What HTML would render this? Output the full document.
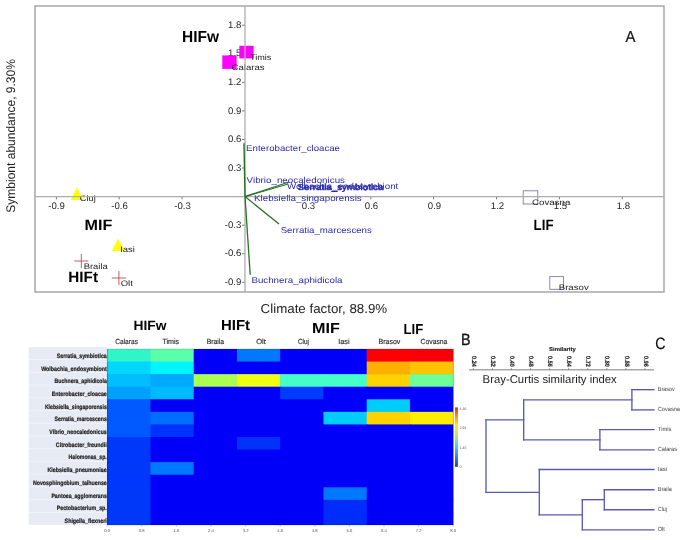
<!DOCTYPE html>
<html><head><meta charset="utf-8"><style>
html,body{margin:0;padding:0;background:#fff;}
svg{display:block;font-family:"Liberation Sans", sans-serif;will-change:transform;text-rendering:geometricPrecision;}
</style></head><body>
<svg width="685" height="540" viewBox="0 0 685 540">
<rect width="685" height="540" fill="#fff"/>
<rect x="35" y="6" width="629" height="286" fill="none" stroke="#9a9a9a" stroke-width="1.3"/>
<line x1="242.0" y1="25.2" x2="245.0" y2="25.2" stroke="#555" stroke-width="0.8"/>
<text x="241.4" y="27.8" font-size="9.6" fill="#262626" text-anchor="end" font-weight="normal">1.8</text>
<line x1="242.0" y1="53.8" x2="245.0" y2="53.8" stroke="#555" stroke-width="0.8"/>
<text x="241.4" y="56.4" font-size="9.6" fill="#262626" text-anchor="end" font-weight="normal">1.5</text>
<line x1="242.0" y1="82.4" x2="245.0" y2="82.4" stroke="#555" stroke-width="0.8"/>
<text x="241.4" y="85.0" font-size="9.6" fill="#262626" text-anchor="end" font-weight="normal">1.2</text>
<line x1="242.0" y1="110.9" x2="245.0" y2="110.9" stroke="#555" stroke-width="0.8"/>
<text x="241.4" y="113.5" font-size="9.6" fill="#262626" text-anchor="end" font-weight="normal">0.9</text>
<line x1="242.0" y1="139.5" x2="245.0" y2="139.5" stroke="#555" stroke-width="0.8"/>
<text x="241.4" y="142.1" font-size="9.6" fill="#262626" text-anchor="end" font-weight="normal">0.6</text>
<line x1="242.0" y1="168.0" x2="245.0" y2="168.0" stroke="#555" stroke-width="0.8"/>
<text x="241.4" y="170.6" font-size="9.6" fill="#262626" text-anchor="end" font-weight="normal">0.3</text>
<line x1="242.0" y1="225.2" x2="245.0" y2="225.2" stroke="#555" stroke-width="0.8"/>
<text x="241.4" y="227.8" font-size="9.6" fill="#262626" text-anchor="end" font-weight="normal">-0.3</text>
<line x1="242.0" y1="253.7" x2="245.0" y2="253.7" stroke="#555" stroke-width="0.8"/>
<text x="241.4" y="256.3" font-size="9.6" fill="#262626" text-anchor="end" font-weight="normal">-0.6</text>
<line x1="242.0" y1="282.3" x2="245.0" y2="282.3" stroke="#555" stroke-width="0.8"/>
<text x="241.4" y="284.9" font-size="9.6" fill="#262626" text-anchor="end" font-weight="normal">-0.9</text>
<line x1="56.4" y1="196.6" x2="56.4" y2="199.29999999999998" stroke="#555" stroke-width="0.8"/>
<text x="56.5" y="209.0" font-size="9.6" fill="#262626" text-anchor="middle" font-weight="normal">-0.9</text>
<line x1="119.2" y1="196.6" x2="119.2" y2="199.29999999999998" stroke="#555" stroke-width="0.8"/>
<text x="119.5" y="209.0" font-size="9.6" fill="#262626" text-anchor="middle" font-weight="normal">-0.6</text>
<line x1="182.1" y1="196.6" x2="182.1" y2="199.29999999999998" stroke="#555" stroke-width="0.8"/>
<text x="182.5" y="209.0" font-size="9.6" fill="#262626" text-anchor="middle" font-weight="normal">-0.3</text>
<line x1="307.9" y1="196.6" x2="307.9" y2="199.29999999999998" stroke="#555" stroke-width="0.8"/>
<text x="308.5" y="209.0" font-size="9.6" fill="#262626" text-anchor="middle" font-weight="normal">0.3</text>
<line x1="370.8" y1="196.6" x2="370.8" y2="199.29999999999998" stroke="#555" stroke-width="0.8"/>
<text x="371.5" y="209.0" font-size="9.6" fill="#262626" text-anchor="middle" font-weight="normal">0.6</text>
<line x1="433.6" y1="196.6" x2="433.6" y2="199.29999999999998" stroke="#555" stroke-width="0.8"/>
<text x="434.5" y="209.0" font-size="9.6" fill="#262626" text-anchor="middle" font-weight="normal">0.9</text>
<line x1="496.5" y1="196.6" x2="496.5" y2="199.29999999999998" stroke="#555" stroke-width="0.8"/>
<text x="497.5" y="209.0" font-size="9.6" fill="#262626" text-anchor="middle" font-weight="normal">1.2</text>
<line x1="559.4" y1="196.6" x2="559.4" y2="199.29999999999998" stroke="#555" stroke-width="0.8"/>
<text x="560.5" y="209.0" font-size="9.6" fill="#262626" text-anchor="middle" font-weight="normal">1.5</text>
<line x1="622.3" y1="196.6" x2="622.3" y2="199.29999999999998" stroke="#555" stroke-width="0.8"/>
<text x="623.5" y="209.0" font-size="9.6" fill="#262626" text-anchor="middle" font-weight="normal">1.8</text>
<rect x="239.3" y="45.8" width="14.3" height="12.6" fill="#ff00ff"/>
<rect x="222.3" y="55.4" width="14.3" height="13.5" fill="#ff00ff"/>
<polygon points="77,187.2 83.3,200 70.7,200" fill="#ffff00"/>
<polygon points="118,238.5 124.2,251 111.8,251" fill="#ffff00"/>
<path d="M74.3,261 H88.3 M81.3,254 V268" stroke="#c04858" stroke-width="0.9" fill="none"/>
<path d="M111.9,278 H125.9 M118.9,271 V285" stroke="#c04858" stroke-width="0.9" fill="none"/>
<rect x="523.2" y="190.8" width="14.6" height="13.2" fill="none" stroke="#7c7cb8" stroke-width="0.9"/>
<rect x="549.8" y="276.6" width="13.6" height="12.7" fill="none" stroke="#7c7cb8" stroke-width="0.9"/>
<text x="250.0" y="59.7" font-size="8" fill="#1a1a1a" text-anchor="start" font-weight="normal" textLength="21.4" lengthAdjust="spacingAndGlyphs">Timis</text>
<text x="231.5" y="69.9" font-size="8" fill="#1a1a1a" text-anchor="start" font-weight="normal" textLength="33.1" lengthAdjust="spacingAndGlyphs">Calaras</text>
<text x="79.8" y="200.9" font-size="8" fill="#1a1a1a" text-anchor="start" font-weight="normal" textLength="16.0" lengthAdjust="spacingAndGlyphs">Cluj</text>
<text x="120.2" y="252.2" font-size="8" fill="#1a1a1a" text-anchor="start" font-weight="normal" textLength="14.8" lengthAdjust="spacingAndGlyphs">Iasi</text>
<text x="83.7" y="269.4" font-size="8" fill="#1a1a1a" text-anchor="start" font-weight="normal" textLength="24.1" lengthAdjust="spacingAndGlyphs">Braila</text>
<text x="120.7" y="286.0" font-size="8" fill="#1a1a1a" text-anchor="start" font-weight="normal" textLength="12.1" lengthAdjust="spacingAndGlyphs">Olt</text>
<text x="532.0" y="204.8" font-size="8" fill="#1a1a1a" text-anchor="start" font-weight="normal" textLength="38.4" lengthAdjust="spacingAndGlyphs">Covasna</text>
<text x="558.7" y="290.2" font-size="8" fill="#1a1a1a" text-anchor="start" font-weight="normal" textLength="30.1" lengthAdjust="spacingAndGlyphs">Brasov</text>
<line x1="245.0" y1="6" x2="245.0" y2="292" stroke="#adadad" stroke-width="1.3"/>
<line x1="35" y1="196.6" x2="664" y2="196.6" stroke="#adadad" stroke-width="1.3"/>
<line x1="245.0" y1="196.6" x2="244.0" y2="143.2" stroke="#267326" stroke-width="1.4"/>
<line x1="245.0" y1="196.6" x2="287.4" y2="184.3" stroke="#267326" stroke-width="1.1"/>
<line x1="245.0" y1="196.6" x2="289.0" y2="182.0" stroke="#267326" stroke-width="1.1"/>
<line x1="245.0" y1="196.6" x2="279.0" y2="224.0" stroke="#267326" stroke-width="1.3"/>
<line x1="245.0" y1="196.6" x2="250.2" y2="274.7" stroke="#267326" stroke-width="1.3"/>
<text x="246.1" y="151.3" font-size="8.5" fill="#2b2bab" text-anchor="start" font-weight="normal" textLength="93.9" lengthAdjust="spacingAndGlyphs">Enterobacter_cloacae</text>
<text x="246.6" y="182.9" font-size="8.5" fill="#2b2bab" text-anchor="start" font-weight="normal" textLength="98.4" lengthAdjust="spacingAndGlyphs">Vibrio_neocaledonicus</text>
<text x="287.0" y="188.9" font-size="8.5" fill="#2b2bab" text-anchor="start" font-weight="normal" textLength="111.3" lengthAdjust="spacingAndGlyphs">Wolbachia_endosymbiont</text>
<text x="297.5" y="189.5" font-size="8.5" fill="#2b2bab" text-anchor="start" font-weight="normal" textLength="85.9" lengthAdjust="spacingAndGlyphs" stroke="#2b2bab" stroke-width="0.5">Serratia_symbiotica</text>
<text x="254.1" y="200.9" font-size="8.5" fill="#2b2bab" text-anchor="start" font-weight="normal" textLength="107.6" lengthAdjust="spacingAndGlyphs">Klebsiella_singaporensis</text>
<text x="280.7" y="232.6" font-size="8.5" fill="#2b2bab" text-anchor="start" font-weight="normal" textLength="91.1" lengthAdjust="spacingAndGlyphs">Serratia_marcescens</text>
<text x="251.4" y="282.9" font-size="8.5" fill="#2b2bab" text-anchor="start" font-weight="normal" textLength="91.1" lengthAdjust="spacingAndGlyphs">Buchnera_aphidicola</text>
<text x="182.0" y="42.1" font-size="16" fill="#000" text-anchor="start" font-weight="bold" textLength="37.0" lengthAdjust="spacingAndGlyphs">HIFw</text>
<text x="84.6" y="229.6" font-size="15" fill="#000" text-anchor="start" font-weight="bold" textLength="27.8" lengthAdjust="spacingAndGlyphs">MIF</text>
<text x="68.3" y="282.4" font-size="15" fill="#000" text-anchor="start" font-weight="bold" textLength="29.7" lengthAdjust="spacingAndGlyphs">HIFt</text>
<text x="533.6" y="230.4" font-size="15" fill="#000" text-anchor="start" font-weight="bold" textLength="19.9" lengthAdjust="spacingAndGlyphs">LIF</text>
<text x="625.6" y="41.7" font-size="16" fill="#111" text-anchor="start" font-weight="normal" textLength="9.9" lengthAdjust="spacingAndGlyphs" stroke="#111" stroke-width="0.2">A</text>
<text transform="translate(14.9,212.7) rotate(-90)" x="0" y="0" font-size="12.5" fill="#222" textLength="153.6" lengthAdjust="spacingAndGlyphs">Symbiont abundance, 9.30%</text>
<text x="260.6" y="313.4" font-size="13" fill="#222" text-anchor="start" font-weight="normal" textLength="126.6" lengthAdjust="spacingAndGlyphs">Climate factor, 88.9%</text>
<rect x="28.7" y="347" width="78.5" height="178.0" fill="#e7ebf4"/>
<line x1="28.7" y1="359.7" x2="107.2" y2="359.7" stroke="#f3f5fa" stroke-width="0.8"/>
<line x1="28.7" y1="372.4" x2="107.2" y2="372.4" stroke="#f3f5fa" stroke-width="0.8"/>
<line x1="28.7" y1="385.1" x2="107.2" y2="385.1" stroke="#f3f5fa" stroke-width="0.8"/>
<line x1="28.7" y1="397.9" x2="107.2" y2="397.9" stroke="#f3f5fa" stroke-width="0.8"/>
<line x1="28.7" y1="410.6" x2="107.2" y2="410.6" stroke="#f3f5fa" stroke-width="0.8"/>
<line x1="28.7" y1="423.3" x2="107.2" y2="423.3" stroke="#f3f5fa" stroke-width="0.8"/>
<line x1="28.7" y1="436.0" x2="107.2" y2="436.0" stroke="#f3f5fa" stroke-width="0.8"/>
<line x1="28.7" y1="448.7" x2="107.2" y2="448.7" stroke="#f3f5fa" stroke-width="0.8"/>
<line x1="28.7" y1="461.4" x2="107.2" y2="461.4" stroke="#f3f5fa" stroke-width="0.8"/>
<line x1="28.7" y1="474.1" x2="107.2" y2="474.1" stroke="#f3f5fa" stroke-width="0.8"/>
<line x1="28.7" y1="486.9" x2="107.2" y2="486.9" stroke="#f3f5fa" stroke-width="0.8"/>
<line x1="28.7" y1="499.6" x2="107.2" y2="499.6" stroke="#f3f5fa" stroke-width="0.8"/>
<line x1="28.7" y1="512.3" x2="107.2" y2="512.3" stroke="#f3f5fa" stroke-width="0.8"/>
<text x="56.7" y="357.8" font-size="6.3" fill="#1a1a1a" text-anchor="start" font-weight="bold" textLength="50.1" lengthAdjust="spacingAndGlyphs" stroke="#1a1a1a" stroke-width="0.2">Serratia_symbiotica</text>
<text x="41.2" y="370.5" font-size="6.3" fill="#1a1a1a" text-anchor="start" font-weight="bold" textLength="65.6" lengthAdjust="spacingAndGlyphs" stroke="#1a1a1a" stroke-width="0.2">Wolbachia_endosymbiont</text>
<text x="54.6" y="383.2" font-size="6.3" fill="#1a1a1a" text-anchor="start" font-weight="bold" textLength="52.2" lengthAdjust="spacingAndGlyphs" stroke="#1a1a1a" stroke-width="0.2">Buchnera_aphidicola</text>
<text x="51.8" y="395.9" font-size="6.3" fill="#1a1a1a" text-anchor="start" font-weight="bold" textLength="55.0" lengthAdjust="spacingAndGlyphs" stroke="#1a1a1a" stroke-width="0.2">Enterobacter_cloacae</text>
<text x="44.9" y="408.6" font-size="6.3" fill="#1a1a1a" text-anchor="start" font-weight="bold" textLength="61.9" lengthAdjust="spacingAndGlyphs" stroke="#1a1a1a" stroke-width="0.2">Klebsiella_singaporensis</text>
<text x="54.6" y="421.3" font-size="6.3" fill="#1a1a1a" text-anchor="start" font-weight="bold" textLength="52.2" lengthAdjust="spacingAndGlyphs" stroke="#1a1a1a" stroke-width="0.2">Serratia_marcescens</text>
<text x="49.3" y="434.0" font-size="6.3" fill="#1a1a1a" text-anchor="start" font-weight="bold" textLength="57.5" lengthAdjust="spacingAndGlyphs" stroke="#1a1a1a" stroke-width="0.2">Vibrio_neocaledonicus</text>
<text x="55.8" y="446.7" font-size="6.3" fill="#1a1a1a" text-anchor="start" font-weight="bold" textLength="51.0" lengthAdjust="spacingAndGlyphs" stroke="#1a1a1a" stroke-width="0.2">Citrobacter_freundii</text>
<text x="68.6" y="459.4" font-size="6.3" fill="#1a1a1a" text-anchor="start" font-weight="bold" textLength="38.2" lengthAdjust="spacingAndGlyphs" stroke="#1a1a1a" stroke-width="0.2">Halomonas_sp.</text>
<text x="47.5" y="472.1" font-size="6.3" fill="#1a1a1a" text-anchor="start" font-weight="bold" textLength="59.3" lengthAdjust="spacingAndGlyphs" stroke="#1a1a1a" stroke-width="0.2">Klebsiella_pneumoniae</text>
<text x="32.9" y="484.8" font-size="6.3" fill="#1a1a1a" text-anchor="start" font-weight="bold" textLength="73.9" lengthAdjust="spacingAndGlyphs" stroke="#1a1a1a" stroke-width="0.2">Novosphingobium_taihuense</text>
<text x="51.4" y="497.5" font-size="6.3" fill="#1a1a1a" text-anchor="start" font-weight="bold" textLength="55.4" lengthAdjust="spacingAndGlyphs" stroke="#1a1a1a" stroke-width="0.2">Pantoea_agglomerans</text>
<text x="56.7" y="510.2" font-size="6.3" fill="#1a1a1a" text-anchor="start" font-weight="bold" textLength="50.1" lengthAdjust="spacingAndGlyphs" stroke="#1a1a1a" stroke-width="0.2">Pectobacterium_sp.</text>
<text x="64.6" y="522.9" font-size="6.3" fill="#1a1a1a" text-anchor="start" font-weight="bold" textLength="42.2" lengthAdjust="spacingAndGlyphs" stroke="#1a1a1a" stroke-width="0.2">Shigella_flexneri</text>
<rect x="107.2" y="349.0" width="346.00" height="176.00" fill="#0000fa"/>
<rect x="107.20" y="349.00" width="43.85" height="13.17" fill="#30f5c8"/>
<rect x="150.45" y="349.00" width="43.85" height="13.17" fill="#5affaa"/>
<rect x="193.70" y="349.00" width="43.85" height="13.17" fill="#0000fa"/>
<rect x="236.95" y="349.00" width="43.85" height="13.17" fill="#0078ff"/>
<rect x="280.20" y="349.00" width="43.85" height="13.17" fill="#0000fa"/>
<rect x="323.45" y="349.00" width="43.85" height="13.17" fill="#0000fa"/>
<rect x="366.70" y="349.00" width="43.85" height="13.17" fill="#ff0000"/>
<rect x="409.95" y="349.00" width="43.25" height="13.17" fill="#f80008"/>
<rect x="107.20" y="361.57" width="43.85" height="13.17" fill="#00d7ff"/>
<rect x="150.45" y="361.57" width="43.85" height="13.17" fill="#00f5ff"/>
<rect x="193.70" y="361.57" width="43.85" height="13.17" fill="#0000fa"/>
<rect x="236.95" y="361.57" width="43.85" height="13.17" fill="#0000fa"/>
<rect x="280.20" y="361.57" width="43.85" height="13.17" fill="#0000fa"/>
<rect x="323.45" y="361.57" width="43.85" height="13.17" fill="#0000fa"/>
<rect x="366.70" y="361.57" width="43.85" height="13.17" fill="#ffaf00"/>
<rect x="409.95" y="361.57" width="43.25" height="13.17" fill="#ffc300"/>
<rect x="107.20" y="374.14" width="43.85" height="13.17" fill="#00beff"/>
<rect x="150.45" y="374.14" width="43.85" height="13.17" fill="#00aaff"/>
<rect x="193.70" y="374.14" width="43.85" height="13.17" fill="#aaff50"/>
<rect x="236.95" y="374.14" width="43.85" height="13.17" fill="#f0ff14"/>
<rect x="280.20" y="374.14" width="43.85" height="13.17" fill="#46ffc8"/>
<rect x="323.45" y="374.14" width="43.85" height="13.17" fill="#46ffc8"/>
<rect x="366.70" y="374.14" width="43.85" height="13.17" fill="#ffd200"/>
<rect x="409.95" y="374.14" width="43.25" height="13.17" fill="#6eff96"/>
<rect x="107.20" y="386.71" width="43.85" height="13.17" fill="#00a0ff"/>
<rect x="150.45" y="386.71" width="43.85" height="13.17" fill="#00b9ff"/>
<rect x="193.70" y="386.71" width="43.85" height="13.17" fill="#0000fa"/>
<rect x="236.95" y="386.71" width="43.85" height="13.17" fill="#0000fa"/>
<rect x="280.20" y="386.71" width="43.85" height="13.17" fill="#003cff"/>
<rect x="323.45" y="386.71" width="43.85" height="13.17" fill="#0000fa"/>
<rect x="366.70" y="386.71" width="43.85" height="13.17" fill="#0000fa"/>
<rect x="409.95" y="386.71" width="43.25" height="13.17" fill="#0000fa"/>
<rect x="107.20" y="399.29" width="43.85" height="13.17" fill="#005aff"/>
<rect x="150.45" y="399.29" width="43.85" height="13.17" fill="#0000fa"/>
<rect x="193.70" y="399.29" width="43.85" height="13.17" fill="#0000fa"/>
<rect x="236.95" y="399.29" width="43.85" height="13.17" fill="#0000fa"/>
<rect x="280.20" y="399.29" width="43.85" height="13.17" fill="#0000fa"/>
<rect x="323.45" y="399.29" width="43.85" height="13.17" fill="#0000fa"/>
<rect x="366.70" y="399.29" width="43.85" height="13.17" fill="#00cdfa"/>
<rect x="409.95" y="399.29" width="43.25" height="13.17" fill="#0000fa"/>
<rect x="107.20" y="411.86" width="43.85" height="13.17" fill="#005aff"/>
<rect x="150.45" y="411.86" width="43.85" height="13.17" fill="#006eff"/>
<rect x="193.70" y="411.86" width="43.85" height="13.17" fill="#0000fa"/>
<rect x="236.95" y="411.86" width="43.85" height="13.17" fill="#0000fa"/>
<rect x="280.20" y="411.86" width="43.85" height="13.17" fill="#0000fa"/>
<rect x="323.45" y="411.86" width="43.85" height="13.17" fill="#00cdfa"/>
<rect x="366.70" y="411.86" width="43.85" height="13.17" fill="#ffd200"/>
<rect x="409.95" y="411.86" width="43.25" height="13.17" fill="#ffee00"/>
<rect x="107.20" y="424.43" width="43.85" height="13.17" fill="#005aff"/>
<rect x="150.45" y="424.43" width="43.85" height="13.17" fill="#0032ff"/>
<rect x="193.70" y="424.43" width="43.85" height="13.17" fill="#0000fa"/>
<rect x="236.95" y="424.43" width="43.85" height="13.17" fill="#0000fa"/>
<rect x="280.20" y="424.43" width="43.85" height="13.17" fill="#0000fa"/>
<rect x="323.45" y="424.43" width="43.85" height="13.17" fill="#0000fa"/>
<rect x="366.70" y="424.43" width="43.85" height="13.17" fill="#0000fa"/>
<rect x="409.95" y="424.43" width="43.25" height="13.17" fill="#0000fa"/>
<rect x="107.20" y="437.00" width="43.85" height="13.17" fill="#0038fa"/>
<rect x="150.45" y="437.00" width="43.85" height="13.17" fill="#0000fa"/>
<rect x="193.70" y="437.00" width="43.85" height="13.17" fill="#0000fa"/>
<rect x="236.95" y="437.00" width="43.85" height="13.17" fill="#0032fa"/>
<rect x="280.20" y="437.00" width="43.85" height="13.17" fill="#0000fa"/>
<rect x="323.45" y="437.00" width="43.85" height="13.17" fill="#0000fa"/>
<rect x="366.70" y="437.00" width="43.85" height="13.17" fill="#0000fa"/>
<rect x="409.95" y="437.00" width="43.25" height="13.17" fill="#0000fa"/>
<rect x="107.20" y="449.57" width="43.85" height="13.17" fill="#0038fa"/>
<rect x="150.45" y="449.57" width="43.85" height="13.17" fill="#0000fa"/>
<rect x="193.70" y="449.57" width="43.85" height="13.17" fill="#0000fa"/>
<rect x="236.95" y="449.57" width="43.85" height="13.17" fill="#0000fa"/>
<rect x="280.20" y="449.57" width="43.85" height="13.17" fill="#0000fa"/>
<rect x="323.45" y="449.57" width="43.85" height="13.17" fill="#0000fa"/>
<rect x="366.70" y="449.57" width="43.85" height="13.17" fill="#0000fa"/>
<rect x="409.95" y="449.57" width="43.25" height="13.17" fill="#0000fa"/>
<rect x="107.20" y="462.14" width="43.85" height="13.17" fill="#0038fa"/>
<rect x="150.45" y="462.14" width="43.85" height="13.17" fill="#0078ff"/>
<rect x="193.70" y="462.14" width="43.85" height="13.17" fill="#0000fa"/>
<rect x="236.95" y="462.14" width="43.85" height="13.17" fill="#0000fa"/>
<rect x="280.20" y="462.14" width="43.85" height="13.17" fill="#0000fa"/>
<rect x="323.45" y="462.14" width="43.85" height="13.17" fill="#0000fa"/>
<rect x="366.70" y="462.14" width="43.85" height="13.17" fill="#0000fa"/>
<rect x="409.95" y="462.14" width="43.25" height="13.17" fill="#0000fa"/>
<rect x="107.20" y="474.71" width="43.85" height="13.17" fill="#0038fa"/>
<rect x="150.45" y="474.71" width="43.85" height="13.17" fill="#0000fa"/>
<rect x="193.70" y="474.71" width="43.85" height="13.17" fill="#0000fa"/>
<rect x="236.95" y="474.71" width="43.85" height="13.17" fill="#0000fa"/>
<rect x="280.20" y="474.71" width="43.85" height="13.17" fill="#0000fa"/>
<rect x="323.45" y="474.71" width="43.85" height="13.17" fill="#0000fa"/>
<rect x="366.70" y="474.71" width="43.85" height="13.17" fill="#0000fa"/>
<rect x="409.95" y="474.71" width="43.25" height="13.17" fill="#0000fa"/>
<rect x="107.20" y="487.29" width="43.85" height="13.17" fill="#0038fa"/>
<rect x="150.45" y="487.29" width="43.85" height="13.17" fill="#0000fa"/>
<rect x="193.70" y="487.29" width="43.85" height="13.17" fill="#0000fa"/>
<rect x="236.95" y="487.29" width="43.85" height="13.17" fill="#0000fa"/>
<rect x="280.20" y="487.29" width="43.85" height="13.17" fill="#0000fa"/>
<rect x="323.45" y="487.29" width="43.85" height="13.17" fill="#0078ff"/>
<rect x="366.70" y="487.29" width="43.85" height="13.17" fill="#0000fa"/>
<rect x="409.95" y="487.29" width="43.25" height="13.17" fill="#0000fa"/>
<rect x="107.20" y="499.86" width="43.85" height="13.17" fill="#0038fa"/>
<rect x="150.45" y="499.86" width="43.85" height="13.17" fill="#0000fa"/>
<rect x="193.70" y="499.86" width="43.85" height="13.17" fill="#0000fa"/>
<rect x="236.95" y="499.86" width="43.85" height="13.17" fill="#0000fa"/>
<rect x="280.20" y="499.86" width="43.85" height="13.17" fill="#0000fa"/>
<rect x="323.45" y="499.86" width="43.85" height="13.17" fill="#002cfa"/>
<rect x="366.70" y="499.86" width="43.85" height="13.17" fill="#0000fa"/>
<rect x="409.95" y="499.86" width="43.25" height="13.17" fill="#0000fa"/>
<rect x="107.20" y="512.43" width="43.85" height="12.57" fill="#0038fa"/>
<rect x="150.45" y="512.43" width="43.85" height="12.57" fill="#0000fa"/>
<rect x="193.70" y="512.43" width="43.85" height="12.57" fill="#0000fa"/>
<rect x="236.95" y="512.43" width="43.85" height="12.57" fill="#0000fa"/>
<rect x="280.20" y="512.43" width="43.85" height="12.57" fill="#0000fa"/>
<rect x="323.45" y="512.43" width="43.85" height="12.57" fill="#002cfa"/>
<rect x="366.70" y="512.43" width="43.85" height="12.57" fill="#0000fa"/>
<rect x="409.95" y="512.43" width="43.25" height="12.57" fill="#0000fa"/>
<rect x="107.2" y="349.0" width="346.00" height="176.00" fill="none" stroke="#000" stroke-opacity="0.25" stroke-width="0.6"/>
<text x="115.2" y="344.0" font-size="7.4" fill="#2a2a2a" text-anchor="start" font-weight="normal" textLength="22.8" lengthAdjust="spacingAndGlyphs" stroke="#2a2a2a" stroke-width="0.15">Calaras</text>
<text x="162.4" y="344.0" font-size="7.4" fill="#2a2a2a" text-anchor="start" font-weight="normal" textLength="16.8" lengthAdjust="spacingAndGlyphs" stroke="#2a2a2a" stroke-width="0.15">Timis</text>
<text x="206.7" y="344.0" font-size="7.4" fill="#2a2a2a" text-anchor="start" font-weight="normal" textLength="17.4" lengthAdjust="spacingAndGlyphs" stroke="#2a2a2a" stroke-width="0.15">Braila</text>
<text x="256.2" y="344.0" font-size="7.4" fill="#2a2a2a" text-anchor="start" font-weight="normal" textLength="9.6" lengthAdjust="spacingAndGlyphs" stroke="#2a2a2a" stroke-width="0.15">Olt</text>
<text x="297.9" y="344.0" font-size="7.4" fill="#2a2a2a" text-anchor="start" font-weight="normal" textLength="11.0" lengthAdjust="spacingAndGlyphs" stroke="#2a2a2a" stroke-width="0.15">Cluj</text>
<text x="338.3" y="344.0" font-size="7.4" fill="#2a2a2a" text-anchor="start" font-weight="normal" textLength="11.3" lengthAdjust="spacingAndGlyphs" stroke="#2a2a2a" stroke-width="0.15">Iasi</text>
<text x="378.5" y="344.0" font-size="7.4" fill="#2a2a2a" text-anchor="start" font-weight="normal" textLength="21.8" lengthAdjust="spacingAndGlyphs" stroke="#2a2a2a" stroke-width="0.15">Brasov</text>
<text x="420.6" y="344.0" font-size="7.4" fill="#2a2a2a" text-anchor="start" font-weight="normal" textLength="26.8" lengthAdjust="spacingAndGlyphs" stroke="#2a2a2a" stroke-width="0.15">Covasna</text>
<text x="133.6" y="330.4" font-size="13.5" fill="#000" text-anchor="start" font-weight="bold" textLength="32.9" lengthAdjust="spacingAndGlyphs">HIFw</text>
<text x="221.0" y="330.0" font-size="14.5" fill="#000" text-anchor="start" font-weight="bold" textLength="29.1" lengthAdjust="spacingAndGlyphs">HIFt</text>
<text x="312.1" y="332.5" font-size="14.5" fill="#000" text-anchor="start" font-weight="bold" textLength="27.8" lengthAdjust="spacingAndGlyphs">MIF</text>
<text x="403.5" y="334.3" font-size="14.5" fill="#000" text-anchor="start" font-weight="bold" textLength="19.7" lengthAdjust="spacingAndGlyphs">LIF</text>
<text x="461.0" y="345.0" font-size="16.2" fill="#111" text-anchor="start" font-weight="normal" textLength="9.6" lengthAdjust="spacingAndGlyphs" stroke="#111" stroke-width="0.3">B</text>
<line x1="107.2" y1="525.0" x2="107.2" y2="526.8" stroke="#999" stroke-width="0.5"/>
<text x="107.2" y="531.8" font-size="4.2" fill="#555" text-anchor="middle" font-weight="normal">0.0</text>
<line x1="141.8" y1="525.0" x2="141.8" y2="526.8" stroke="#999" stroke-width="0.5"/>
<text x="141.8" y="531.8" font-size="4.2" fill="#555" text-anchor="middle" font-weight="normal">0.8</text>
<line x1="176.4" y1="525.0" x2="176.4" y2="526.8" stroke="#999" stroke-width="0.5"/>
<text x="176.4" y="531.8" font-size="4.2" fill="#555" text-anchor="middle" font-weight="normal">1.6</text>
<line x1="211.0" y1="525.0" x2="211.0" y2="526.8" stroke="#999" stroke-width="0.5"/>
<text x="211.0" y="531.8" font-size="4.2" fill="#555" text-anchor="middle" font-weight="normal">2.4</text>
<line x1="245.6" y1="525.0" x2="245.6" y2="526.8" stroke="#999" stroke-width="0.5"/>
<text x="245.6" y="531.8" font-size="4.2" fill="#555" text-anchor="middle" font-weight="normal">3.2</text>
<line x1="280.2" y1="525.0" x2="280.2" y2="526.8" stroke="#999" stroke-width="0.5"/>
<text x="280.2" y="531.8" font-size="4.2" fill="#555" text-anchor="middle" font-weight="normal">4.0</text>
<line x1="314.8" y1="525.0" x2="314.8" y2="526.8" stroke="#999" stroke-width="0.5"/>
<text x="314.8" y="531.8" font-size="4.2" fill="#555" text-anchor="middle" font-weight="normal">4.8</text>
<line x1="349.4" y1="525.0" x2="349.4" y2="526.8" stroke="#999" stroke-width="0.5"/>
<text x="349.4" y="531.8" font-size="4.2" fill="#555" text-anchor="middle" font-weight="normal">5.6</text>
<line x1="384.0" y1="525.0" x2="384.0" y2="526.8" stroke="#999" stroke-width="0.5"/>
<text x="384.0" y="531.8" font-size="4.2" fill="#555" text-anchor="middle" font-weight="normal">6.4</text>
<line x1="418.6" y1="525.0" x2="418.6" y2="526.8" stroke="#999" stroke-width="0.5"/>
<text x="418.6" y="531.8" font-size="4.2" fill="#555" text-anchor="middle" font-weight="normal">7.2</text>
<line x1="453.2" y1="525.0" x2="453.2" y2="526.8" stroke="#999" stroke-width="0.5"/>
<text x="453.2" y="531.8" font-size="4.2" fill="#555" text-anchor="middle" font-weight="normal">8.0</text>
<defs><linearGradient id="cb" x1="0" y1="1" x2="0" y2="0"><stop offset="0" stop-color="#3a3aa8"/><stop offset="0.2" stop-color="#4090e0"/><stop offset="0.38" stop-color="#50d8e8"/><stop offset="0.55" stop-color="#c0ec60"/><stop offset="0.7" stop-color="#f8e830"/><stop offset="0.85" stop-color="#f09030"/><stop offset="1" stop-color="#d03030"/></linearGradient></defs>
<rect x="455" y="407.4" width="3" height="59.4" fill="url(#cb)"/>
<text x="459.5" y="409.6" font-size="3.6" fill="#555" text-anchor="start" font-weight="normal">4.36</text>
<text x="459.5" y="429.0" font-size="3.6" fill="#555" text-anchor="start" font-weight="normal">2.91</text>
<text x="459.5" y="449.0" font-size="3.6" fill="#555" text-anchor="start" font-weight="normal">1.45</text>
<text x="459.5" y="468.4" font-size="3.6" fill="#555" text-anchor="start" font-weight="normal">0</text>
<line x1="631.9" y1="389.7" x2="653.9" y2="389.7" stroke="#5a5ab6" stroke-width="1.35" stroke-linecap="square"/>
<line x1="631.9" y1="409.9" x2="653.9" y2="409.9" stroke="#5a5ab6" stroke-width="1.35" stroke-linecap="square"/>
<line x1="631.9" y1="389.7" x2="631.9" y2="409.9" stroke="#5a5ab6" stroke-width="1.35" stroke-linecap="square"/>
<line x1="599.9" y1="429.6" x2="653.9" y2="429.6" stroke="#5a5ab6" stroke-width="1.35" stroke-linecap="square"/>
<line x1="599.9" y1="449.9" x2="653.9" y2="449.9" stroke="#5a5ab6" stroke-width="1.35" stroke-linecap="square"/>
<line x1="599.9" y1="429.6" x2="599.9" y2="449.9" stroke="#5a5ab6" stroke-width="1.35" stroke-linecap="square"/>
<line x1="523.7" y1="399.8" x2="631.9" y2="399.8" stroke="#5a5ab6" stroke-width="1.35" stroke-linecap="square"/>
<line x1="523.7" y1="439.8" x2="599.9" y2="439.8" stroke="#5a5ab6" stroke-width="1.35" stroke-linecap="square"/>
<line x1="523.7" y1="399.8" x2="523.7" y2="439.8" stroke="#5a5ab6" stroke-width="1.35" stroke-linecap="square"/>
<line x1="604.3" y1="489.7" x2="653.9" y2="489.7" stroke="#5a5ab6" stroke-width="1.35" stroke-linecap="square"/>
<line x1="604.3" y1="509.7" x2="653.9" y2="509.7" stroke="#5a5ab6" stroke-width="1.35" stroke-linecap="square"/>
<line x1="604.3" y1="489.7" x2="604.3" y2="509.7" stroke="#5a5ab6" stroke-width="1.35" stroke-linecap="square"/>
<line x1="582.3" y1="499.7" x2="604.3" y2="499.7" stroke="#5a5ab6" stroke-width="1.35" stroke-linecap="square"/>
<line x1="582.3" y1="529.9" x2="653.9" y2="529.9" stroke="#5a5ab6" stroke-width="1.35" stroke-linecap="square"/>
<line x1="582.3" y1="499.7" x2="582.3" y2="529.9" stroke="#5a5ab6" stroke-width="1.35" stroke-linecap="square"/>
<line x1="539.3" y1="469.5" x2="653.9" y2="469.5" stroke="#5a5ab6" stroke-width="1.35" stroke-linecap="square"/>
<line x1="539.3" y1="514.8" x2="582.3" y2="514.8" stroke="#5a5ab6" stroke-width="1.35" stroke-linecap="square"/>
<line x1="539.3" y1="469.5" x2="539.3" y2="514.8" stroke="#5a5ab6" stroke-width="1.35" stroke-linecap="square"/>
<line x1="486.0" y1="419.8" x2="523.7" y2="419.8" stroke="#5a5ab6" stroke-width="1.35" stroke-linecap="square"/>
<line x1="486.0" y1="492.3" x2="539.3" y2="492.3" stroke="#5a5ab6" stroke-width="1.35" stroke-linecap="square"/>
<line x1="486.0" y1="419.8" x2="486.0" y2="492.3" stroke="#5a5ab6" stroke-width="1.35" stroke-linecap="square"/>
<text x="657.8" y="391.1" font-size="6" fill="#444" text-anchor="start" font-weight="normal" textLength="17.0" lengthAdjust="spacingAndGlyphs">Brasov</text>
<text x="657.8" y="411.3" font-size="6" fill="#444" text-anchor="start" font-weight="normal" textLength="22.2" lengthAdjust="spacingAndGlyphs">Covasna</text>
<text x="657.8" y="431.0" font-size="6" fill="#444" text-anchor="start" font-weight="normal" textLength="13.7" lengthAdjust="spacingAndGlyphs">Timis</text>
<text x="657.8" y="451.3" font-size="6" fill="#444" text-anchor="start" font-weight="normal" textLength="19.2" lengthAdjust="spacingAndGlyphs">Calaras</text>
<text x="657.8" y="470.9" font-size="6" fill="#444" text-anchor="start" font-weight="normal" textLength="9.2" lengthAdjust="spacingAndGlyphs">Iasi</text>
<text x="657.8" y="491.1" font-size="6" fill="#444" text-anchor="start" font-weight="normal" textLength="14.0" lengthAdjust="spacingAndGlyphs">Braila</text>
<text x="657.8" y="511.1" font-size="6" fill="#444" text-anchor="start" font-weight="normal" textLength="9.2" lengthAdjust="spacingAndGlyphs">Cluj</text>
<text x="657.8" y="531.3" font-size="6" fill="#444" text-anchor="start" font-weight="normal" textLength="7.1" lengthAdjust="spacingAndGlyphs">Olt</text>
<line x1="469" y1="369.7" x2="654" y2="369.7" stroke="#a8a8a8" stroke-width="1.5"/>
<line x1="473.3" y1="368.2" x2="473.3" y2="369.7" stroke="#444" stroke-width="0.6"/>
<text transform="translate(471.9,356.1) rotate(90)" font-size="6.4" fill="#1a1a1a" font-weight="bold" stroke="#1a1a1a" stroke-width="0.15" textLength="10.7" lengthAdjust="spacingAndGlyphs">0.24</text>
<line x1="492.4" y1="368.2" x2="492.4" y2="369.7" stroke="#444" stroke-width="0.6"/>
<text transform="translate(491.0,356.1) rotate(90)" font-size="6.4" fill="#1a1a1a" font-weight="bold" stroke="#1a1a1a" stroke-width="0.15" textLength="10.7" lengthAdjust="spacingAndGlyphs">0.32</text>
<line x1="511.4" y1="368.2" x2="511.4" y2="369.7" stroke="#444" stroke-width="0.6"/>
<text transform="translate(510.0,356.1) rotate(90)" font-size="6.4" fill="#1a1a1a" font-weight="bold" stroke="#1a1a1a" stroke-width="0.15" textLength="10.7" lengthAdjust="spacingAndGlyphs">0.40</text>
<line x1="530.5" y1="368.2" x2="530.5" y2="369.7" stroke="#444" stroke-width="0.6"/>
<text transform="translate(529.1,356.1) rotate(90)" font-size="6.4" fill="#1a1a1a" font-weight="bold" stroke="#1a1a1a" stroke-width="0.15" textLength="10.7" lengthAdjust="spacingAndGlyphs">0.48</text>
<line x1="549.6" y1="368.2" x2="549.6" y2="369.7" stroke="#444" stroke-width="0.6"/>
<text transform="translate(548.2,356.1) rotate(90)" font-size="6.4" fill="#1a1a1a" font-weight="bold" stroke="#1a1a1a" stroke-width="0.15" textLength="10.7" lengthAdjust="spacingAndGlyphs">0.56</text>
<line x1="568.6" y1="368.2" x2="568.6" y2="369.7" stroke="#444" stroke-width="0.6"/>
<text transform="translate(567.2,356.1) rotate(90)" font-size="6.4" fill="#1a1a1a" font-weight="bold" stroke="#1a1a1a" stroke-width="0.15" textLength="10.7" lengthAdjust="spacingAndGlyphs">0.64</text>
<line x1="587.7" y1="368.2" x2="587.7" y2="369.7" stroke="#444" stroke-width="0.6"/>
<text transform="translate(586.3,356.1) rotate(90)" font-size="6.4" fill="#1a1a1a" font-weight="bold" stroke="#1a1a1a" stroke-width="0.15" textLength="10.7" lengthAdjust="spacingAndGlyphs">0.72</text>
<line x1="606.8" y1="368.2" x2="606.8" y2="369.7" stroke="#444" stroke-width="0.6"/>
<text transform="translate(605.4,356.1) rotate(90)" font-size="6.4" fill="#1a1a1a" font-weight="bold" stroke="#1a1a1a" stroke-width="0.15" textLength="10.7" lengthAdjust="spacingAndGlyphs">0.80</text>
<line x1="625.9" y1="368.2" x2="625.9" y2="369.7" stroke="#444" stroke-width="0.6"/>
<text transform="translate(624.5,356.1) rotate(90)" font-size="6.4" fill="#1a1a1a" font-weight="bold" stroke="#1a1a1a" stroke-width="0.15" textLength="10.7" lengthAdjust="spacingAndGlyphs">0.88</text>
<line x1="644.9" y1="368.2" x2="644.9" y2="369.7" stroke="#444" stroke-width="0.6"/>
<text transform="translate(643.5,356.1) rotate(90)" font-size="6.4" fill="#1a1a1a" font-weight="bold" stroke="#1a1a1a" stroke-width="0.15" textLength="10.7" lengthAdjust="spacingAndGlyphs">0.96</text>
<text x="549.1" y="351.3" font-size="5.6" fill="#222" text-anchor="start" font-weight="bold" textLength="26.7" lengthAdjust="spacingAndGlyphs" stroke="#222" stroke-width="0.15">Similarity</text>
<text x="482.6" y="382.6" font-size="11.3" fill="#222" text-anchor="start" font-weight="normal" textLength="134.2" lengthAdjust="spacingAndGlyphs">Bray-Curtis similarity index</text>
<text x="655.2" y="348.6" font-size="16.4" fill="#111" text-anchor="start" font-weight="normal" textLength="10.3" lengthAdjust="spacingAndGlyphs" stroke="#111" stroke-width="0.15">C</text>
</svg>
</body></html>
